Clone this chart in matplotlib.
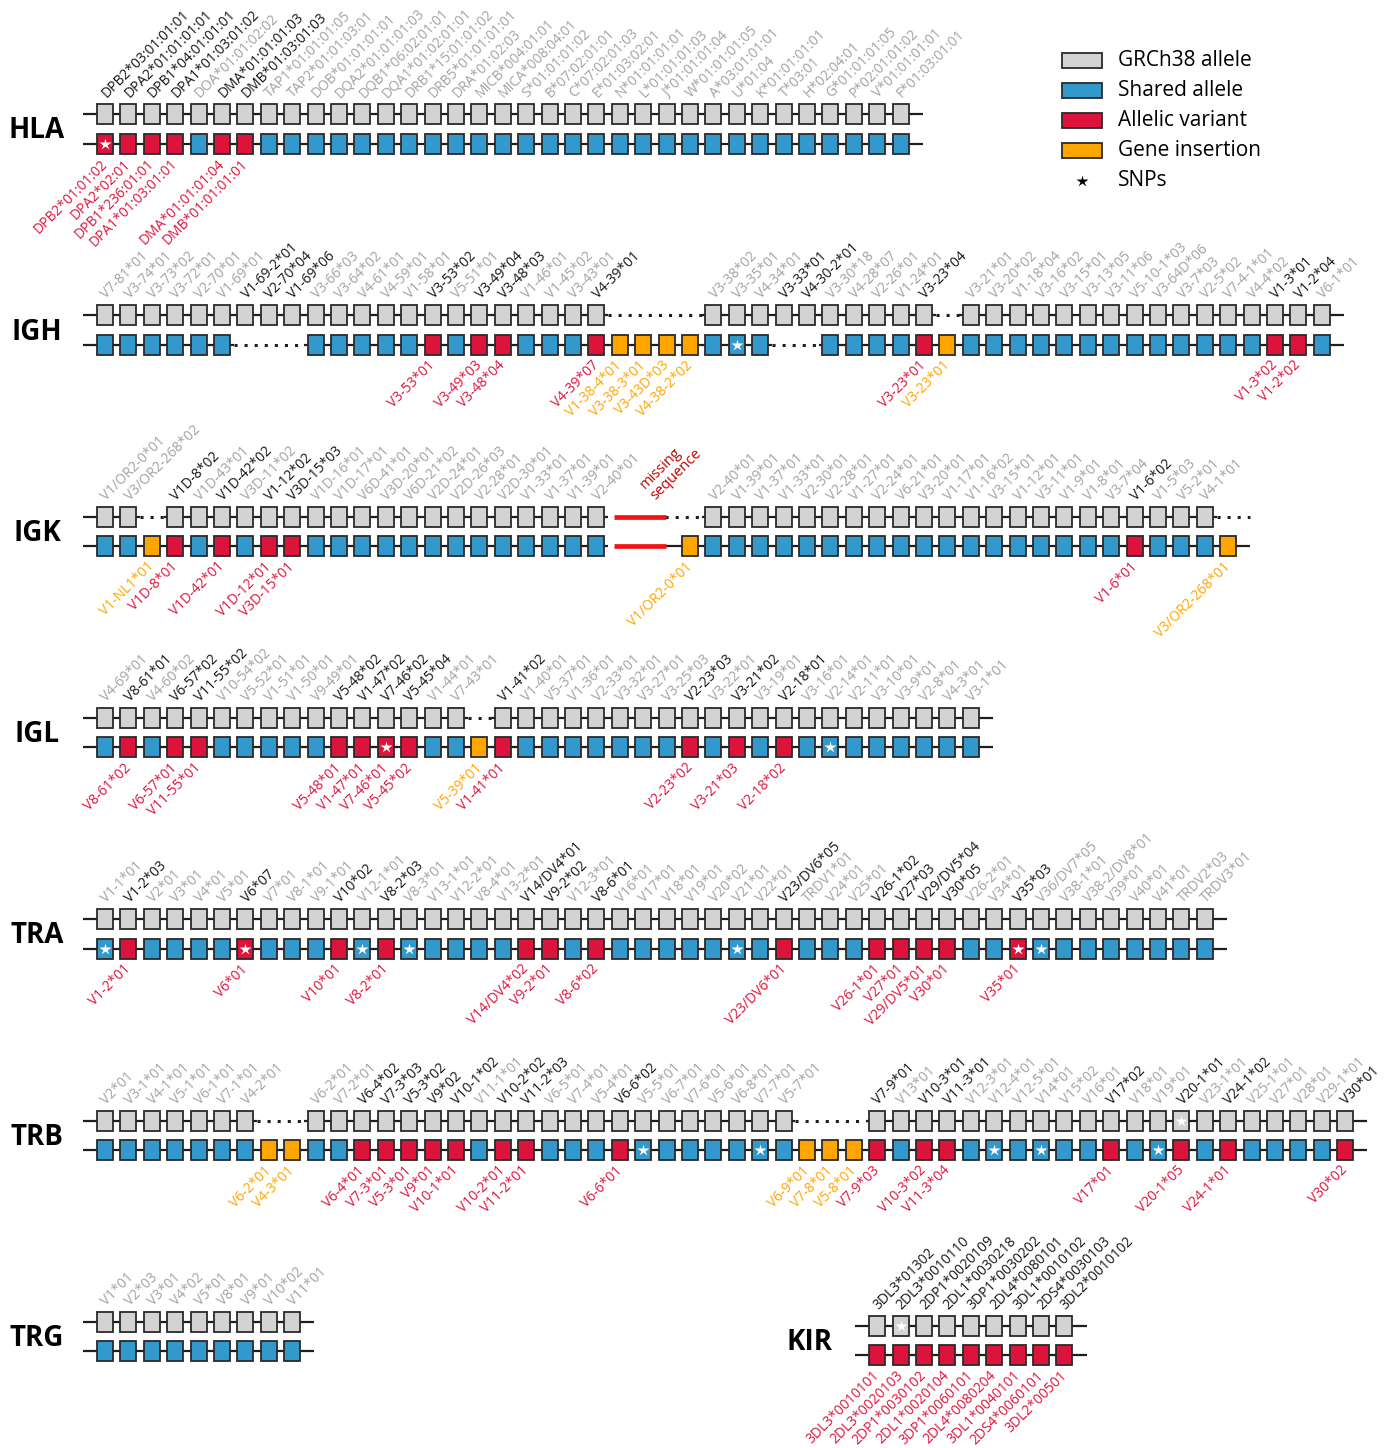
import matplotlib
matplotlib.use('Agg')
import matplotlib.pyplot as plt
from matplotlib.patches import Rectangle

plt.rcParams['font.family'] = ['Open Sans', 'DejaVu Sans']

# slot codes: R = GRCh38 allele, S = shared, V = allelic variant, I = gene insertion,
# '.' = gap (dotted), '-' = plain line, M = missing sequence
FILL = {'R': '#d3d3d3', 'S': '#3399cc', 'V': '#dc143c', 'I': '#ffa500'}
LABEL_COLOR = {'V': '#dc143c', 'I': '#ffa500'}
DARK, GREY = '#141414', '#a2a2a2'

# ---------------- HLA ----------------
hla_top = "R" * 35
hla_top_labels = ['DPB2*03:01:01:01', 'DPA2*01:01:01:01', 'DPB1*04:01:01:01', 'DPA1*01:03:01:02',
                  'DOA*01:01:02:02', 'DMA*01:01:01:03', 'DMB*01:03:01:03', 'TAP1*01:01:01:05',
                  'TAP2*01:01:03:01', 'DOB*01:01:01:01', 'DQA2*01:01:01:03', 'DQB1*06:02:01:01',
                  'DQA1*01:02:01:01', 'DRB1*15:01:01:02', 'DRB5*01:01:01:01', 'DRA*01:02:03',
                  'MICB*004:01:01', 'MICA*008:04:01', 'S*01:01:01:02', 'B*07:02:01:01',
                  'C*07:02:01:03', 'E*01:03:02:01', 'N*01:01:01:01', 'L*01:01:01:03',
                  'J*01:01:01:04', 'W*01:01:01:05', 'A*03:01:01:01', 'U*01:04', 'K*01:01:01:01',
                  'T*03:01', 'H*02:04:01', 'G*01:01:01:05', 'P*02:01:01:02', 'V*01:01:01:01',
                  'F*01:03:01:01']
hla_top_dark = ['DPB2*03:01:01:01', 'DPA2*01:01:01:01', 'DPB1*04:01:01:01', 'DPA1*01:03:01:02',
                'DMA*01:01:01:03', 'DMB*01:03:01:03']
hla_bottom = "VVVVSVV" + "S" * 28
hla_bottom_labels = {0: 'DPB2*01:01:02', 1: 'DPA2*02:01', 2: 'DPB1*236:01:01',
                     3: 'DPA1*01:03:01:01', 5: 'DMA*01:01:01:04', 6: 'DMB*01:01:01:01'}
hla_snp_top, hla_snp_bottom = [], [0]

# ---------------- IGH ----------------
igh_top = "R" * 22 + "...." + "R" * 10 + "." + "R" * 16
igh_top_labels = ['V7-81*01', 'V3-74*01', 'V3-73*02', 'V3-72*01', 'V2-70*01', 'V1-69*01',
                  'V1-69-2*01', 'V2-70*04', 'V1-69*06', 'V3-66*03', 'V3-64*02', 'V4-61*01',
                  'V4-59*01', 'V1-58*01', 'V3-53*02', 'V5-51*01', 'V3-49*04', 'V3-48*03',
                  'V1-46*01', 'V1-45*02', 'V3-43*01', 'V4-39*01',
                  'V3-38*02', 'V3-35*01', 'V4-34*01', 'V3-33*01', 'V4-30-2*01', 'V3-30*18',
                  'V4-28*07', 'V2-26*01', 'V1-24*01', 'V3-23*04',
                  'V3-21*01', 'V3-20*02', 'V1-18*04', 'V3-16*02', 'V3-15*01', 'V3-13*05',
                  'V3-11*06', 'V5-10-1*03', 'V3-64D*06', 'V3-7*03', 'V2-5*02', 'V7-4-1*01',
                  'V4-4*02', 'V1-3*01', 'V1-2*04', 'V6-1*01']
igh_top_dark = ['V1-69-2*01', 'V2-70*04', 'V1-69*06', 'V3-53*02', 'V3-49*04', 'V3-48*03',
                'V4-39*01', 'V3-33*01', 'V4-30-2*01', 'V3-23*04', 'V1-3*01', 'V1-2*04']
igh_bottom = ("S" * 6 + "..." + "S" * 5 + "V" + "S" + "VV" + "SSS" + "V" + "IIII" + "SSS" + ".."
              + "SSSS" + "V" + "I" + "S" * 13 + "VV" + "S")
igh_bottom_labels = {14: 'V3-53*01', 16: 'V3-49*03', 17: 'V3-48*04', 21: 'V4-39*07',
                     22: 'V1-38-4*01', 23: 'V3-38-3*01', 24: 'V3-43D*03', 25: 'V4-38-2*02',
                     35: 'V3-23*01', 36: 'V3-23*01', 50: 'V1-3*02', 51: 'V1-2*02'}
igh_snp_top, igh_snp_bottom = [], [27]

# ---------------- IGK ----------------
igk_top = "RR" + "." + "R" * 19 + "MM" + ".." + "R" * 22 + "."
igk_top_labels = ['V1/OR2-0*01', 'V3/OR2-268*02',
                  'V1D-8*02', 'V1D-43*01', 'V1D-42*02', 'V3D-11*02', 'V1-12*02', 'V3D-15*03',
                  'V1D-16*01', 'V1D-17*01', 'V6D-41*01', 'V3D-20*01', 'V6D-21*02', 'V2D-24*01',
                  'V2D-26*03', 'V2-28*01', 'V2D-30*01', 'V1-33*01', 'V1-37*01', 'V1-39*01',
                  'V2-40*01',
                  'V2-40*01', 'V1-39*01', 'V1-37*01', 'V1-33*01', 'V2-30*01', 'V2-28*01',
                  'V1-27*01', 'V2-24*01', 'V6-21*01', 'V3-20*01', 'V1-17*01', 'V1-16*02',
                  'V3-15*01', 'V1-12*01', 'V3-11*01', 'V1-9*01', 'V1-8*01', 'V3-7*04',
                  'V1-6*02', 'V1-5*03', 'V5-2*01', 'V4-1*01']
igk_top_dark = ['V1D-8*02', 'V1D-42*02', 'V1-12*02', 'V3D-15*03', 'V1-6*02']
igk_bottom = ("SSI" + "V" + "S" + "V" + "S" + "VV" + "S" * 13 + "MM" + "-" + "I" + "S" * 18
              + "V" + "SSS" + "I")
igk_bottom_labels = {2: 'V1-NL1*01', 3: 'V1D-8*01', 5: 'V1D-42*01', 7: 'V1D-12*01',
                     8: 'V3D-15*01', 25: 'V1/OR2-0*01', 44: 'V1-6*01', 48: 'V3/OR2-268*01'}
igk_snp_top, igk_snp_bottom = [], []

# ---------------- IGL ----------------
igl_top = "R" * 16 + "." + "R" * 21
igl_top_labels = ['V4-69*01', 'V8-61*01', 'V4-60*02', 'V6-57*02', 'V11-55*02', 'V10-54*02',
                  'V5-52*01', 'V1-51*01', 'V1-50*01', 'V9-49*01', 'V5-48*02', 'V1-47*02',
                  'V7-46*02', 'V5-45*04', 'V1-44*01', 'V7-43*01',
                  'V1-41*02', 'V1-40*01', 'V5-37*01', 'V1-36*01', 'V2-33*01', 'V3-32*01',
                  'V3-27*01', 'V3-25*03', 'V2-23*03', 'V3-22*01', 'V3-21*02', 'V3-19*01',
                  'V2-18*01', 'V3-16*01', 'V2-14*01', 'V2-11*01', 'V3-10*01', 'V3-9*01',
                  'V2-8*01', 'V4-3*01', 'V3-1*01']
igl_top_dark = ['V8-61*01', 'V6-57*02', 'V11-55*02', 'V5-48*02', 'V1-47*02', 'V7-46*02',
                'V5-45*04', 'V1-41*02', 'V2-23*03', 'V3-21*02', 'V2-18*01']
igl_bottom = ("SVSVV" + "S" * 5 + "VVVV" + "SS" + "I" + "V" + "S" * 7 + "V" + "S" + "V" + "S"
              + "V" + "S" * 8)
igl_bottom_labels = {1: 'V8-61*02', 3: 'V6-57*01', 4: 'V11-55*01', 10: 'V5-48*01',
                     11: 'V1-47*01', 12: 'V7-46*01', 13: 'V5-45*02', 16: 'V5-39*01',
                     17: 'V1-41*01', 25: 'V2-23*02', 27: 'V3-21*03', 29: 'V2-18*02'}
igl_snp_top, igl_snp_bottom = [], [12, 31]

# ---------------- TRA ----------------
tra_top = "R" * 48
tra_top_labels = ['V1-1*01', 'V1-2*03', 'V2*01', 'V3*01', 'V4*01', 'V5*01', 'V6*07', 'V7*01',
                  'V8-1*01', 'V9-1*01', 'V10*02', 'V12-1*01', 'V8-2*03', 'V8-3*01', 'V13-1*01',
                  'V12-2*01', 'V8-4*01', 'V13-2*01', 'V14/DV4*01', 'V9-2*02', 'V12-3*01',
                  'V8-6*01', 'V16*01', 'V17*01', 'V18*01', 'V19*01', 'V20*02', 'V21*01',
                  'V22*01', 'V23/DV6*05', 'TRDV1*01', 'V24*01', 'V25*01', 'V26-1*02', 'V27*03',
                  'V29/DV5*04', 'V30*05', 'V26-2*01', 'V34*01', 'V35*03', 'V36/DV7*05',
                  'V38-1*01', 'V38-2/DV8*01', 'V39*01', 'V40*01', 'V41*01', 'TRDV2*03',
                  'TRDV3*01']
tra_top_dark = ['V1-2*03', 'V6*07', 'V10*02', 'V8-2*03', 'V14/DV4*01', 'V9-2*02', 'V8-6*01',
                'V23/DV6*05', 'V26-1*02', 'V27*03', 'V29/DV5*04', 'V30*05', 'V35*03']
tra_bottom = ("SV" + "SSSS" + "V" + "SSS" + "V" + "S" + "V" + "S" * 5 + "VV" + "S" + "V"
              + "S" * 7 + "V" + "SSS" + "VVVV" + "SS" + "V" + "S" * 8)
tra_bottom_labels = {1: 'V1-2*01', 6: 'V6*01', 10: 'V10*01', 12: 'V8-2*01',
                     18: 'V14/DV4*02', 19: 'V9-2*01', 21: 'V8-6*02', 29: 'V23/DV6*01',
                     33: 'V26-1*01', 34: 'V27*01', 35: 'V29/DV5*01', 36: 'V30*01', 39: 'V35*01'}
tra_snp_top, tra_snp_bottom = [], [0, 6, 11, 13, 27, 39, 40]

# ---------------- TRB ----------------
trb_top = "R" * 7 + ".." + "R" * 21 + "..." + "R" * 21
trb_top_labels = ['V2*01', 'V3-1*01', 'V4-1*01', 'V5-1*01', 'V6-1*01', 'V7-1*01', 'V4-2*01',
                  'V6-2*01', 'V7-2*01', 'V6-4*02', 'V7-3*03', 'V5-3*02', 'V9*02', 'V10-1*02',
                  'V11-1*01', 'V10-2*02', 'V11-2*03', 'V6-5*01', 'V7-4*01', 'V5-4*01',
                  'V6-6*02', 'V5-5*01', 'V6-7*01', 'V7-6*01', 'V5-6*01', 'V6-8*01', 'V7-7*01',
                  'V5-7*01',
                  'V7-9*01', 'V13*01', 'V10-3*01', 'V11-3*01', 'V12-3*01', 'V12-4*01',
                  'V12-5*01', 'V14*01', 'V15*02', 'V16*01', 'V17*02', 'V18*01', 'V19*01',
                  'V20-1*01', 'V23-1*01', 'V24-1*02', 'V25-1*01', 'V27*01', 'V28*01',
                  'V29-1*01', 'V30*01']
trb_top_dark = ['V6-4*02', 'V7-3*03', 'V5-3*02', 'V9*02', 'V10-1*02', 'V10-2*02', 'V11-2*03',
                'V6-6*02', 'V7-9*01', 'V10-3*01', 'V11-3*01', 'V17*02', 'V20-1*01',
                'V24-1*02', 'V30*01']
trb_bottom = ("S" * 7 + "II" + "SS" + "V" * 5 + "S" + "VV" + "SSS" + "V" + "S" * 7 + "III"
              + "V" + "S" + "VV" + "S" * 6 + "V" + "SS" + "V" + "S" + "V" + "S" * 4 + "V")
trb_bottom_labels = {7: 'V6-2*01', 8: 'V4-3*01', 11: 'V6-4*01', 12: 'V7-3*01', 13: 'V5-3*01',
                     14: 'V9*01', 15: 'V10-1*01', 17: 'V10-2*01', 18: 'V11-2*01',
                     22: 'V6-6*01', 30: 'V6-9*01', 31: 'V7-8*01', 32: 'V5-8*01',
                     33: 'V7-9*03', 35: 'V10-3*02', 36: 'V11-3*04', 43: 'V17*01',
                     46: 'V20-1*05', 48: 'V24-1*01', 53: 'V30*02'}
trb_snp_top, trb_snp_bottom = [46], [23, 28, 38, 40, 45]

# ---------------- TRG ----------------
trg_top = "R" * 9
trg_top_labels = ['V1*01', 'V2*03', 'V3*01', 'V4*02', 'V5*01', 'V8*01', 'V9*01', 'V10*02',
                  'V11*01']
trg_top_dark = []
trg_bottom = "S" * 9
trg_bottom_labels = {}
trg_snp_top, trg_snp_bottom = [], []

# ---------------- KIR ----------------
kir_top = "R" * 9
kir_top_labels = ['3DL3*01302', '2DL3*0010110', '2DP1*0020109', '2DL1*0030218',
                  '3DP1*0030202', '2DL4*0080101', '3DL1*0010102', '2DS4*0030103',
                  '3DL2*0010102']
kir_top_dark = list(kir_top_labels)
kir_bottom = "V" * 9
kir_bottom_labels = {0: '3DL3*0010101', 1: '2DL3*0020103', 2: '2DP1*0030102',
                     3: '2DL1*0020104', 4: '3DP1*0060101', 5: '2DL4*0080204',
                     6: '3DL1*0040101', 7: '2DS4*0060101', 8: '3DL2*00501'}
kir_snp_top, kir_snp_bottom = [1], []

# (name, row, slot offset, top, labels, dark, bottom, bottom labels, snps top, snps bottom)
loci = [
    ('HLA', 0, 0, hla_top, hla_top_labels, hla_top_dark, hla_bottom, hla_bottom_labels, hla_snp_top, hla_snp_bottom),
    ('IGH', 1, 0, igh_top, igh_top_labels, igh_top_dark, igh_bottom, igh_bottom_labels, igh_snp_top, igh_snp_bottom),
    ('IGK', 2, 0, igk_top, igk_top_labels, igk_top_dark, igk_bottom, igk_bottom_labels, igk_snp_top, igk_snp_bottom),
    ('IGL', 3, 0, igl_top, igl_top_labels, igl_top_dark, igl_bottom, igl_bottom_labels, igl_snp_top, igl_snp_bottom),
    ('TRA', 4, 0, tra_top, tra_top_labels, tra_top_dark, tra_bottom, tra_bottom_labels, tra_snp_top, tra_snp_bottom),
    ('TRB', 5, 0, trb_top, trb_top_labels, trb_top_dark, trb_bottom, trb_bottom_labels, trb_snp_top, trb_snp_bottom),
    ('TRG', 6, 0, trg_top, trg_top_labels, trg_top_dark, trg_bottom, trg_bottom_labels, trg_snp_top, trg_snp_bottom),
    ('KIR', 6, 33, kir_top, kir_top_labels, kir_top_dark, kir_bottom, kir_bottom_labels, kir_snp_top, kir_snp_bottom),
]

legend_items = ['GRCh38 allele', 'Shared allele', 'Allelic variant', 'Gene insertion']
legend_codes = ['R', 'S', 'V', 'I']

# layout in pixel units
X0, PITCH = 105, 23.4
Y0, ROW_GAP, TRACK_GAP = 114, 201.3, 29.5
BOX_W, BOX_H = 16, 20
LABEL_FS = 10


def xpos(i):
    return X0 + i * PITCH


fig = plt.figure(figsize=(13.94, 14.48), dpi=100)
ax = fig.add_axes([0, 0, 1, 1])
ax.set_xlim(0, 1394)
ax.set_ylim(1448, 0)
ax.axis('off')


def draw_line(codes, y, off):
    n = len(codes)
    runs = []
    for i, c in enumerate(codes):
        s = 'dot' if c == '.' else ('miss' if c == 'M' else 'solid')
        a = i - (0.95 if i == 0 else 0.5)
        b = i + (0.95 if i == n - 1 else 0.5)
        if runs and runs[-1][0] == s:
            runs[-1][2] = b
        else:
            runs.append([s, a, b])
    for s, a, b in runs:
        xs = [xpos(a + off), xpos(b + off)]
        if s == 'solid':
            ax.plot(xs, [y, y], color='#1e1e1e', lw=1.6, solid_capstyle='butt', zorder=1)
        elif s == 'dot':
            ax.plot(xs, [y, y], color='#1e1e1e', lw=2.2, linestyle=(0, (1, 2.3)),
                    dash_capstyle='butt', zorder=1)
        else:
            ax.plot([xs[0] + 6, xs[1] + 11], [y, y], color='#f01515', lw=3.4,
                    solid_capstyle='butt', zorder=2)


def draw_boxes(codes, y, off, snps):
    for i, c in enumerate(codes):
        if c in FILL:
            ax.add_patch(Rectangle((xpos(i + off) - BOX_W / 2, y - BOX_H / 2), BOX_W, BOX_H,
                                   facecolor=FILL[c], edgecolor='#2a2a2a', lw=1.3, zorder=3))
    for i in snps:
        ax.plot(xpos(i + off), y, marker='*', color='white', ms=9, mec='none', zorder=4)


for name, row, off, top, top_labels, dark, bottom, bottom_labels, snp_t, snp_b in loci:
    yt = Y0 + row * ROW_GAP + (4 if name == 'KIR' else 0)
    yb = yt + TRACK_GAP
    draw_line(top, yt, off)
    draw_line(bottom, yb, off)
    draw_boxes(top, yt, off, snp_t)
    draw_boxes(bottom, yb, off, snp_b)

    # names above the reference track
    k = 0
    for i, c in enumerate(top):
        if c == 'R':
            lab = top_labels[k]
            k += 1
            ax.text(xpos(i + off) + 4, yt - BOX_H / 2 - 3, lab, rotation=45,
                    rotation_mode='anchor', ha='left', va='bottom', fontsize=LABEL_FS,
                    color=DARK if lab in dark else GREY)

    # differing alleles below the sample track
    for i, lab in bottom_labels.items():
        ax.text(xpos(i + off) - 5, yb + BOX_H / 2 + 3, lab, rotation=45,
                rotation_mode='anchor', ha='right', va='top', fontsize=LABEL_FS,
                color=LABEL_COLOR[bottom[i]])

    # missing sequence note
    if 'M' in top:
        m = top.index('M')
        ax.text(xpos(m + off + 1) + 15, yt - 14, 'missing\nsequence', rotation=45,
                rotation_mode='anchor', ha='left', va='bottom', fontsize=10.5,
                color='#c00000', linespacing=0.95)

    name_x = xpos(off) - 68
    ax.text(name_x, (yt + yb) / 2 + 2, name, fontsize=20, fontweight='bold',
            ha='center', va='center', color='black')

# legend
for j, (lab, code) in enumerate(zip(legend_items, legend_codes)):
    ly = 60 + j * 30
    ax.add_patch(Rectangle((1062, ly - 7.5), 40, 15, facecolor=FILL[code],
                           edgecolor='#2a2a2a', lw=1.3, zorder=3))
    ax.text(1118, ly, lab, fontsize=15, va='center', ha='left')
ax.plot(1082, 181, marker='*', color='black', ms=9, mec='none')
ax.text(1118, 181, 'SNPs', fontsize=15, va='center', ha='left')

fig.savefig('out.png', dpi=100)
